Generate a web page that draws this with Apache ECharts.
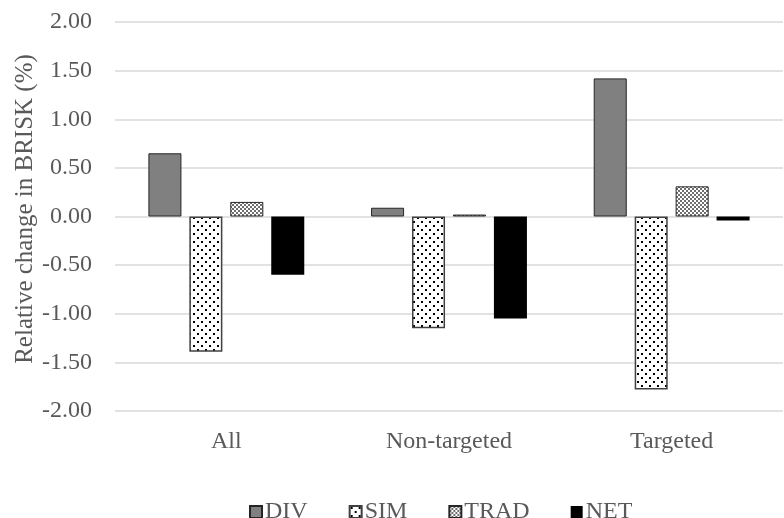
<!DOCTYPE html>
<html>
<head>
<meta charset="utf-8">
<script src="https://cdn.jsdelivr.net/npm/echarts@6/dist/echarts.min.js"></script>
<style>
  html, body { margin: 0; padding: 0; background: #ffffff; }
  #chart { width: 784px; height: 518px; }
</style>
</head>
<body>
<div id="chart"></div>
<script>
// Relative change in BRISK (%) by targeting group
const categories = ['All', 'Non-targeted', 'Targeted'];
const seriesNames = ['DIV', 'SIM', 'TRAD', 'NET'];
const divValues  = [0.65, 0.09, 1.42];
const simValues  = [-1.39, -1.15, -1.78];
const tradValues = [0.15, 0.02, 0.31];
const netValues  = [-0.60, -1.05, -0.04];
const yTicks = { min: -2, max: 2, interval: 0.5 };

// Tiled fills for the patterned series
function dottedTile() {
  const c = document.createElement('canvas');
  c.width = 8; c.height = 8;
  const g = c.getContext('2d');
  g.fillStyle = '#ffffff'; g.fillRect(0, 0, 8, 8);
  g.fillStyle = '#000000';
  g.fillRect(1, 1, 2, 2);
  g.fillRect(5, 5, 2, 2);
  return c;
}
function checkerTile() {
  const c = document.createElement('canvas');
  c.width = 4; c.height = 4;
  const g = c.getContext('2d');
  g.fillStyle = '#ffffff'; g.fillRect(0, 0, 4, 4);
  g.fillStyle = '#6e6e6e';
  g.fillRect(0, 0, 2, 2);
  g.fillRect(2, 2, 2, 2);
  return c;
}

const FONT = '"Liberation Serif", "Times New Roman", serif';
const TEXT = '#595959';

const styles = [
  { color: '#808080', borderColor: '#262626', borderWidth: 1 },
  { color: { image: dottedTile(), repeat: 'repeat' }, borderColor: '#404040', borderWidth: 1.5 },
  { color: { image: checkerTile(), repeat: 'repeat' }, borderColor: '#262626', borderWidth: 1 },
  { color: '#000000', borderColor: '#000000', borderWidth: 0 }
];
const values = [divValues, simValues, tradValues, netValues];

const chart = echarts.init(document.getElementById('chart'), null, { renderer: 'canvas' });
chart.setOption({
  animation: false,
  backgroundColor: '#ffffff',
  grid: { left: 115, right: 1, top: 22, bottom: 107 },
  graphic: [{
    type: 'text',
    x: 25,
    y: 209,
    rotation: Math.PI / 2,
    style: {
      text: 'Relative change in BRISK (%)',
      font: '25px ' + FONT,
      fill: TEXT,
      align: 'center',
      verticalAlign: 'middle'
    }
  }],
  legend: {
    data: seriesNames,
    left: 244,
    top: 495,
    itemWidth: 12,
    itemHeight: 12,
    itemGap: 41,
    icon: 'rect',
    textStyle: { fontFamily: FONT, fontSize: 24, color: TEXT, padding: [0, 0, 0, -2] }
  },
  xAxis: {
    type: 'category',
    data: categories,
    axisLine: { show: false, onZero: false },
    axisTick: { show: false },
    axisLabel: { fontFamily: FONT, fontSize: 24, color: TEXT, margin: 19 }
  },
  yAxis: {
    type: 'value',
    min: yTicks.min,
    max: yTicks.max,
    interval: yTicks.interval,
    axisLine: { show: false },
    axisTick: { show: false },
    axisLabel: {
      fontFamily: FONT, fontSize: 24, color: TEXT, margin: 23,
      formatter: v => v.toFixed(2)
    },
    splitLine: { lineStyle: { color: '#d9d9d9', width: 1.5 } }
  },
  series: seriesNames.map((name, i) => ({
    name: name,
    type: 'bar',
    data: values[i],
    barCategoryGap: '30%',
    barGap: '24%',
    itemStyle: styles[i]
  }))
});
</script>
</body>
</html>
